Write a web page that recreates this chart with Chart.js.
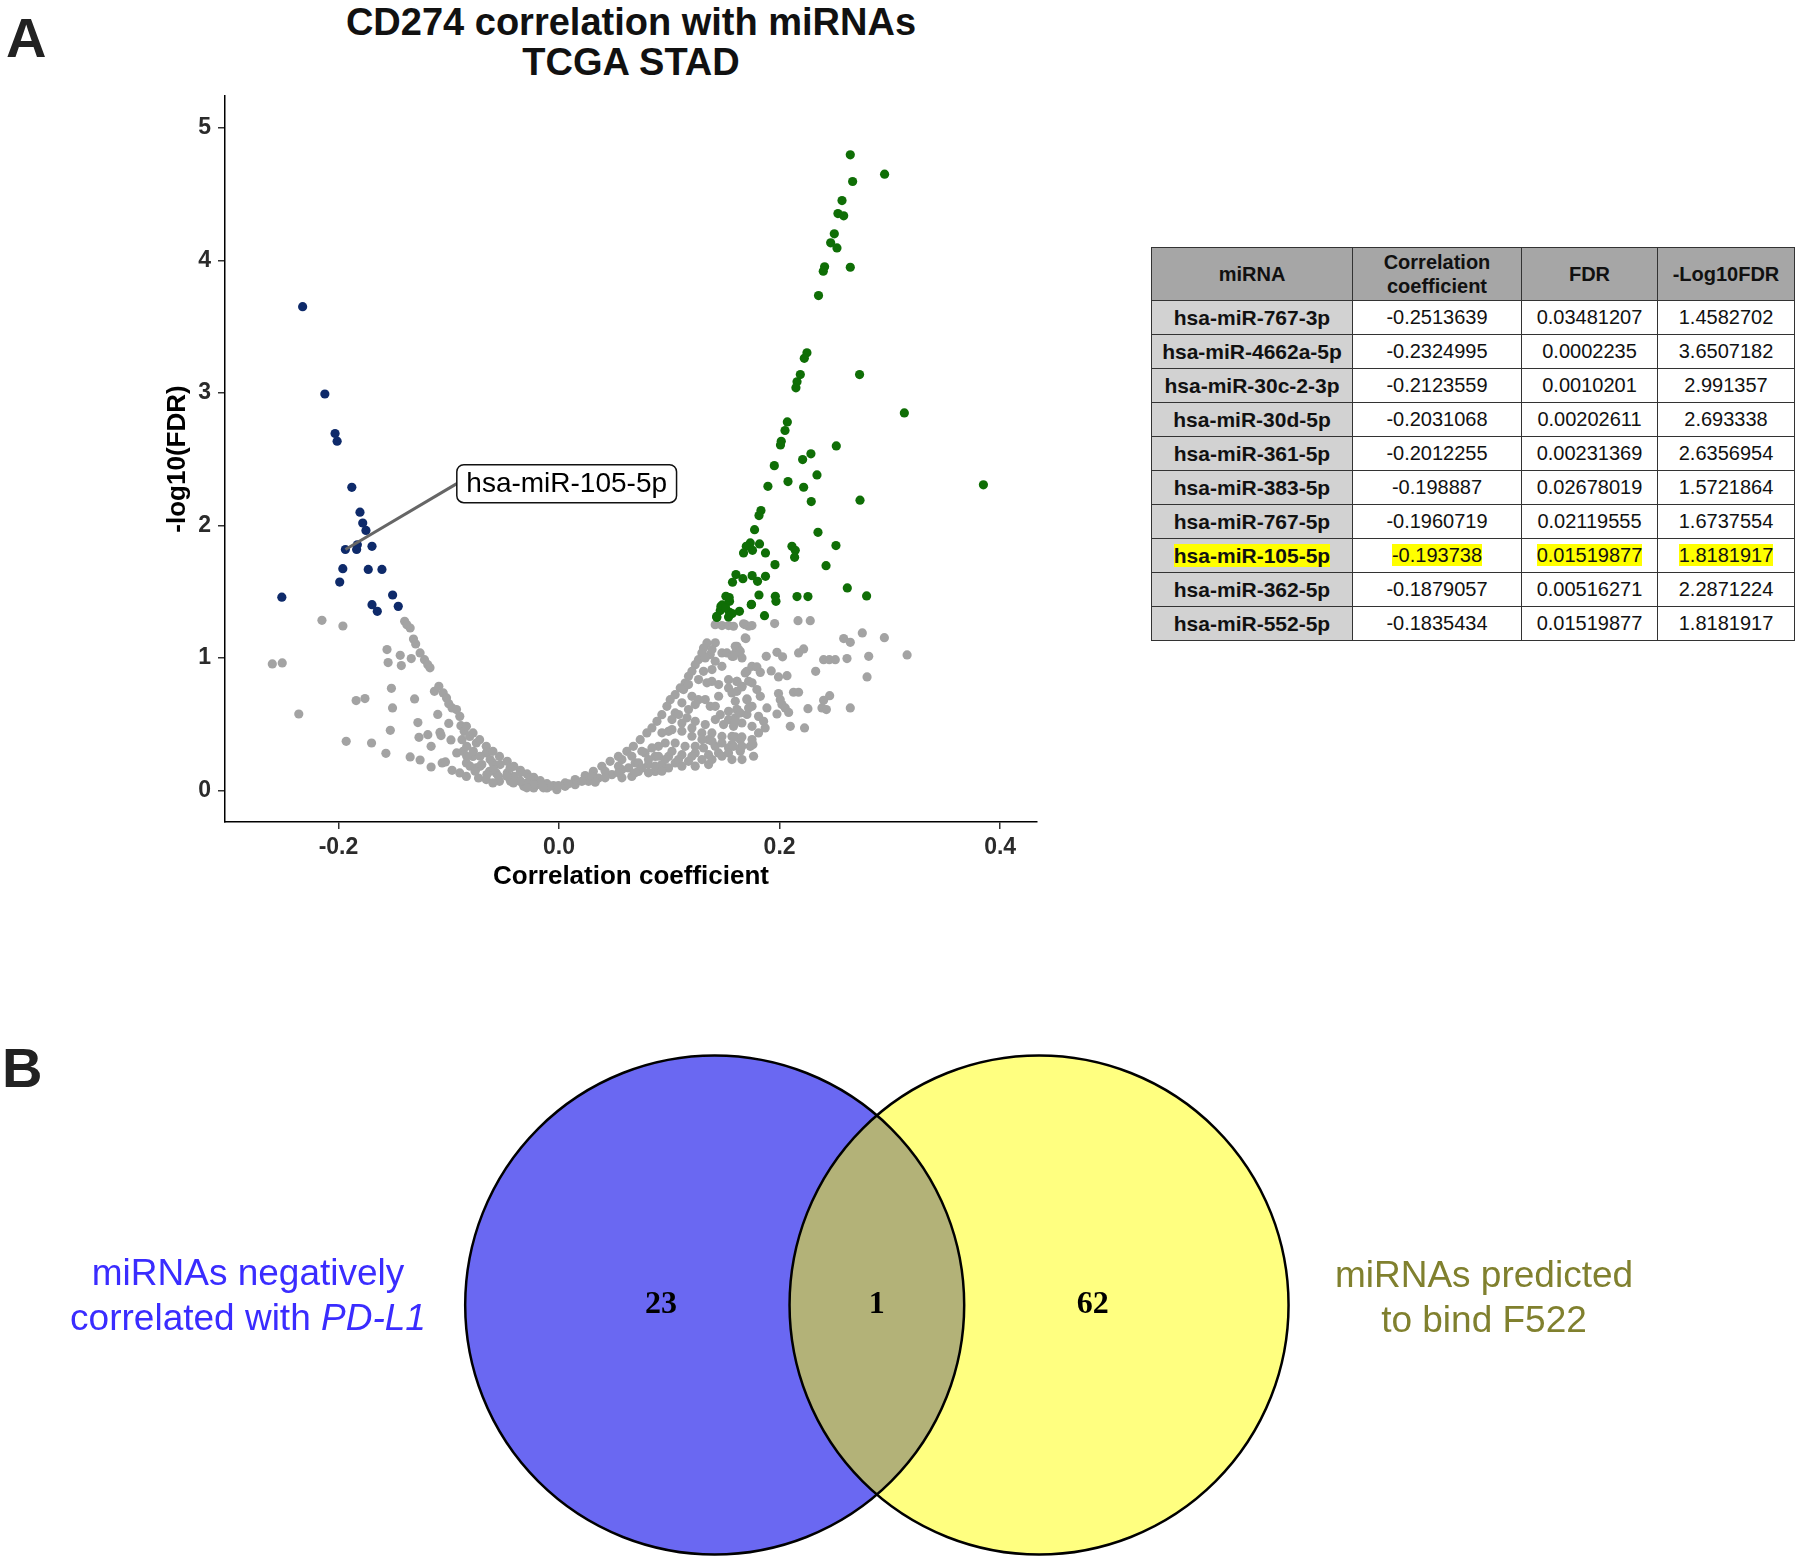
<!DOCTYPE html>
<html>
<head>
<meta charset="utf-8">
<script src="https://cdn.jsdelivr.net/npm/chart.js@4.4.1/dist/chart.umd.min.js"></script>
<style>
  html, body { margin: 0; padding: 0; background: #fff; }
  body { position: relative; width: 1800px; height: 1559px; overflow: hidden; font-family: "Liberation Sans", Arial, sans-serif; }
  .panel-tag { position: absolute; font-weight: bold; font-size: 56px; line-height: 56px; color: #222; }
  #title { position: absolute; left: 231px; top: 2px; width: 800px; text-align: center; font-weight: bold; font-size: 38px; line-height: 40px; color: #111; }
  #volcano { position: absolute; left: 0; top: 0; }
  #venn { position: absolute; left: 0; top: 1000px; }
  #tbl { position: absolute; left: 1151px; top: 247px; border-collapse: collapse; font-size: 20px; color: #111; table-layout: fixed; }
  #tbl td, #tbl th { border: 1.5px solid #333; text-align: center; padding: 0; }
  #tbl th { background: #a6a6a6; height: 52px; line-height: 24px; font-weight: bold; }
  #tbl td { height: 33px; }
  #tbl td.name { background: #d2d2d2; font-weight: bold; font-size: 21px; }
  #tbl .hl { background: #ffff00; }
  .set-label { position: absolute; font-size: 37px; line-height: 45px; text-align: center; width: 420px; }
</style>
</head>
<body>
<div class="panel-tag" style="left:6px;top:10px">A</div>
<div class="panel-tag" style="left:2px;top:1040px">B</div>
<div id="title">CD274 correlation with miRNAs<br>TCGA STAD</div>
<canvas id="volcano" width="1100" height="900"></canvas>
<table id="tbl"></table>
<canvas id="venn" width="1800" height="559"></canvas>
<div class="set-label" style="left:38px;top:1250px;color:#3a2cff">miRNAs negatively<br>correlated with <i>PD-L1</i></div>
<div class="set-label" style="left:1274px;top:1252px;color:#80802e">miRNAs predicted<br>to bind F522</div>

<script>
(function() {
    'use strict';

    // ---- panel A data: correlation coefficient vs -log10(FDR) ----
    const xTickVals = [-0.2, 0.0, 0.2, 0.4];
    const yTickVals = [0, 1, 2, 3, 4, 5];

    // significant, negatively correlated (blue)
    const negHits = [
        [-0.2513639, 1.4582702], [-0.2324995, 3.6507182], [-0.2123559, 2.991357], [-0.2031068, 2.693338],
        [-0.2012255, 2.6356954], [-0.198887, 1.5721864], [-0.1960719, 1.6737554], [-0.193738, 1.8181917],
        [-0.1879057, 2.2871224], [-0.1835434, 1.8181917], [-0.1805, 2.100], [-0.1780, 2.018],
        [-0.1751, 1.962], [-0.1829, 1.854], [-0.1696, 1.842], [-0.1730, 1.668], [-0.1606, 1.668],
        [-0.1509, 1.475], [-0.1458, 1.389], [-0.1696, 1.402], [-0.1648, 1.352]
    ];

    // significant, positively correlated (green)
    const posHits = [
        [0.2641, 4.796], [0.2952, 4.650], [0.2662, 4.595], [0.2566, 4.451], [0.2529, 4.353], [0.2581, 4.336],
        [0.2496, 4.200], [0.2463, 4.132], [0.2520, 4.094], [0.2408, 3.951], [0.2396, 3.918], [0.2641, 3.948],
        [0.2353, 3.734], [0.2248, 3.302], [0.2224, 3.261], [0.2188, 3.138], [0.2158, 3.083], [0.2148, 3.038],
        [0.2725, 3.138], [0.3131, 2.849], [0.2070, 2.781], [0.2049, 2.716], [0.2015, 2.635], [0.2008, 2.607],
        [0.2514, 2.600], [0.2284, 2.540], [0.2209, 2.497], [0.1952, 2.451], [0.2339, 2.381], [0.2076, 2.331],
        [0.1894, 2.295], [0.2218, 2.288], [0.3848, 2.306], [0.2287, 2.180], [0.2729, 2.190], [0.1831, 2.112],
        [0.1813, 2.074], [0.1773, 1.968], [0.2348, 1.948], [0.1734, 1.868], [0.1698, 1.842], [0.1818, 1.860],
        [0.1754, 1.812], [0.1673, 1.792], [0.1872, 1.792], [0.2112, 1.842], [0.2142, 1.812], [0.2136, 1.759],
        [0.2511, 1.848], [0.1958, 1.704], [0.2421, 1.696], [0.1604, 1.629], [0.1573, 1.571], [0.1667, 1.598],
        [0.1751, 1.621], [0.1800, 1.578], [0.1872, 1.616], [0.2614, 1.528], [0.2789, 1.468], [0.1513, 1.465],
        [0.1546, 1.427], [0.1468, 1.389], [0.1462, 1.357], [0.1636, 1.352], [0.1546, 1.344], [0.1813, 1.475],
        [0.1961, 1.465], [0.1967, 1.427], [0.2158, 1.463], [0.2257, 1.463], [0.1745, 1.405], [0.1863, 1.319],
        [0.1431, 1.306], [0.1537, 1.309], [0.1743, 1.402], [0.1429, 1.313], [0.1480, 1.400], [0.1543, 1.456],
        [0.1510, 1.378], [0.1570, 1.335]
    ];

    // not significant (grey)
    const notSig = [
        [-0.215, 1.284], [-0.196, 1.241], [-0.260, 0.955], [-0.251, 0.962], [-0.236, 0.577], [-0.140, 1.276],
        [-0.138, 1.251], [-0.135, 1.226], [-0.132, 1.143], [-0.130, 1.106], [-0.156, 1.063], [-0.144, 1.020],
        [-0.126, 1.038], [-0.134, 0.995], [-0.155, 0.965], [-0.143, 0.942], [-0.122, 0.987], [-0.119, 0.949],
        [-0.117, 0.925], [-0.152, 0.771], [-0.184, 0.678], [-0.176, 0.693], [-0.151, 0.623], [-0.131, 0.691],
        [-0.113, 0.748], [-0.109, 0.786], [-0.105, 0.736], [-0.102, 0.698], [-0.100, 0.655], [-0.097, 0.623],
        [-0.093, 0.610], [-0.110, 0.574], [-0.100, 0.506], [-0.128, 0.512], [-0.153, 0.454], [-0.193, 0.371],
        [-0.170, 0.358], [-0.157, 0.280], [-0.127, 0.401], [-0.119, 0.421], [-0.116, 0.333], [-0.108, 0.438],
        [-0.107, 0.414], [-0.098, 0.381], [-0.135, 0.253], [-0.126, 0.230], [-0.116, 0.177], [-0.106, 0.208],
        [-0.103, 0.215], [-0.089, 0.489], [-0.086, 0.446], [-0.088, 0.383], [-0.087, 0.295], [-0.081, 0.408],
        [-0.075, 0.358], [-0.078, 0.257], [-0.097, 0.152], [-0.090, 0.132], [-0.084, 0.106], [-0.073, 0.094],
        [-0.070, 0.195], [-0.066, 0.283], [-0.060, 0.208], [-0.057, 0.132], [-0.047, 0.132], [-0.054, 0.069],
        [-0.041, 0.106], [-0.035, 0.069], [-0.029, 0.057], [-0.020, 0.044], [-0.011, 0.019], [-0.002, 0.006],
        [-0.090, 0.559], [-0.084, 0.484], [-0.078, 0.434], [-0.072, 0.383], [-0.066, 0.333], [-0.060, 0.295],
        [-0.054, 0.257], [-0.047, 0.220], [-0.041, 0.182], [-0.035, 0.152], [-0.029, 0.125], [-0.023, 0.099],
        [-0.017, 0.074], [-0.011, 0.051], [-0.005, 0.036], [-0.084, 0.208], [-0.075, 0.170], [-0.063, 0.144],
        [-0.044, 0.069], [-0.032, 0.031], [-0.023, 0.019], [-0.066, 0.082], [-0.060, 0.057],
        [-0.0837, 0.333], [-0.0777, 0.296], [-0.0716, 0.258], [-0.0625, 0.233], [-0.0534, 0.195], [-0.0444, 0.170],
        [-0.0353, 0.133], [-0.0262, 0.095], [-0.0172, 0.057], [-0.0081, 0.032], [-0.0716, 0.183], [-0.0595, 0.158],
        [-0.0474, 0.107], [-0.0353, 0.069], [-0.0232, 0.045], [-0.0142, 0.020], [-0.0807, 0.183], [-0.0928, 0.283],
        [-0.0837, 0.258], [-0.0761, 0.145], [-0.0655, 0.120], [-0.0550, 0.107], [-0.0414, 0.057], [-0.0292, 0.020],
        [0.1416, 1.251], [0.1477, 1.244], [0.1537, 1.244], [0.1688, 1.251], [0.1719, 1.239], [0.1688, 1.151],
        [0.1341, 1.113], [0.1310, 1.075], [0.1295, 1.038], [0.1264, 0.987], [0.1235, 0.949], [0.1205, 0.899],
        [0.1174, 0.861], [0.1143, 0.811], [0.1099, 0.774], [0.1053, 0.723], [0.1008, 0.685], [0.0978, 0.635],
        [0.0932, 0.572], [0.0888, 0.522], [0.0842, 0.472], [0.0796, 0.434], [0.0736, 0.383], [0.0674, 0.333],
        [0.0615, 0.295], [0.0538, 0.257], [0.0463, 0.220], [0.0388, 0.182], [0.0311, 0.144], [0.0237, 0.112],
        [0.0146, 0.082], [0.0055, 0.057], [-0.0006, 0.036], [0.1371, 1.025], [0.1416, 0.975], [0.1310, 0.899],
        [0.1386, 0.823], [0.1477, 1.038], [0.1522, 1.038], [0.1598, 1.088], [0.1627, 1.063], [0.1704, 0.899],
        [0.1749, 0.937], [0.1537, 0.836], [0.1613, 0.823], [0.1537, 0.774], [0.1613, 0.748], [0.1704, 0.685],
        [0.1371, 0.635], [0.1462, 0.572], [0.1537, 0.597], [0.1613, 0.610], [0.1492, 0.497], [0.1537, 0.534],
        [0.1658, 0.509], [0.1129, 0.761], [0.1205, 0.710], [0.1264, 0.685], [0.1174, 0.610], [0.1053, 0.585],
        [0.1114, 0.509], [0.1205, 0.472], [0.1295, 0.434], [0.1386, 0.434], [0.1356, 0.383], [0.0993, 0.446],
        [0.0963, 0.358], [0.1053, 0.358], [0.0901, 0.333], [0.1143, 0.333], [0.1235, 0.333], [0.1310, 0.321],
        [0.1416, 0.333], [0.1477, 0.408], [0.1568, 0.408], [0.1643, 0.383], [0.1734, 0.333], [0.1537, 0.321],
        [0.1643, 0.308], [0.0780, 0.283], [0.0872, 0.257], [0.0993, 0.257], [0.1114, 0.270], [0.1235, 0.283],
        [0.1356, 0.270], [0.1446, 0.283], [0.0690, 0.208], [0.0811, 0.195], [0.0932, 0.195], [0.1053, 0.208],
        [0.1174, 0.220], [0.0569, 0.157], [0.0720, 0.144], [0.0872, 0.144], [0.0479, 0.119], [0.0660, 0.106],
        [0.0357, 0.094], [0.0267, 0.069], [0.0146, 0.044], [0.0055, 0.031],
        [0.0570, 0.233], [0.0660, 0.258], [0.0751, 0.296], [0.0842, 0.321], [0.0721, 0.208], [0.0811, 0.233],
        [0.0902, 0.258], [0.1024, 0.296], [0.0963, 0.233], [0.1084, 0.233], [0.1205, 0.258], [0.1296, 0.233],
        [0.1387, 0.233], [0.1477, 0.258], [0.1537, 0.283], [0.0539, 0.183], [0.0630, 0.170], [0.0751, 0.170],
        [0.0872, 0.183], [0.0993, 0.170], [0.1114, 0.183], [0.1235, 0.183], [0.1356, 0.195], [0.0418, 0.145],
        [0.0539, 0.133], [0.0690, 0.133], [0.0811, 0.133], [0.0933, 0.145], [0.0298, 0.107], [0.0418, 0.095],
        [0.0570, 0.095], [0.0207, 0.069], [0.0328, 0.062], [0.0085, 0.050], [0.0933, 0.435], [0.1024, 0.459],
        [0.1114, 0.447], [0.1205, 0.409], [0.1296, 0.384], [0.1387, 0.371], [0.1477, 0.359], [0.1568, 0.346],
        [0.1659, 0.333], [0.1750, 0.384], [0.1764, 0.258], [0.1659, 0.233], [0.1568, 0.233], [0.1024, 0.535],
        [0.1084, 0.573], [0.1160, 0.548], [0.1235, 0.522], [0.1326, 0.497], [0.1417, 0.535], [0.1598, 0.548],
        [0.1704, 0.573], [0.1750, 0.484], [0.1114, 0.661], [0.1235, 0.648], [0.1326, 0.686], [0.1447, 0.711],
        [0.1598, 0.673], [0.1750, 0.635], [0.1417, 0.635], [0.1174, 0.799], [0.1265, 0.837], [0.1341, 0.812],
        [0.1447, 0.799], [0.1659, 0.786], [0.1750, 0.812], [0.1387, 0.912], [0.1477, 0.937], [0.1719, 0.824],
        [0.1417, 1.114], [0.1387, 1.063], [0.1568, 1.012], [0.1659, 1.000], [0.1326, 1.000],
        [0.1582, 1.239], [0.1673, 1.257], [0.1749, 1.244], [0.1955, 1.259], [0.2167, 1.281], [0.2278, 1.281],
        [0.1694, 1.146], [0.1613, 1.088], [0.1598, 1.038], [0.1643, 1.050], [0.1582, 1.012], [0.1879, 1.012],
        [0.1976, 1.042], [0.2027, 1.008], [0.2172, 1.038], [0.2218, 1.068], [0.2581, 1.146], [0.2641, 1.118],
        [0.2750, 1.189], [0.2950, 1.153], [0.3156, 1.023], [0.2808, 1.012], [0.2611, 0.995], [0.2399, 0.987],
        [0.2451, 0.987], [0.2505, 0.987], [0.2327, 0.899], [0.2793, 0.857], [0.1794, 0.932], [0.1825, 0.891],
        [0.1924, 0.902], [0.1990, 0.857], [0.2067, 0.866], [0.1688, 0.887], [0.1613, 0.823], [0.1658, 0.781],
        [0.1568, 0.736], [0.1794, 0.761], [0.1825, 0.710], [0.1990, 0.731], [0.2006, 0.685], [0.2126, 0.741],
        [0.2172, 0.741], [0.2454, 0.715], [0.2399, 0.680], [0.1704, 0.691], [0.1613, 0.610], [0.1719, 0.623],
        [0.1885, 0.623], [0.2021, 0.648], [0.2051, 0.623], [0.2082, 0.589], [0.2257, 0.617], [0.2384, 0.623],
        [0.2424, 0.610], [0.2641, 0.623], [0.1976, 0.577], [0.1809, 0.559], [0.1855, 0.522], [0.1643, 0.585],
        [0.1598, 0.522], [0.1582, 0.484], [0.1869, 0.472], [0.2097, 0.484], [0.2226, 0.472], [0.1809, 0.434],
        [0.1598, 0.404], [0.1658, 0.404], [0.1582, 0.333], [0.1643, 0.295], [0.1758, 0.346]
    ];

    const labelled = { name: 'hsa-miR-105-5p', r: -0.193738, logFdr: 1.8181917 };

    // ---- table data ----
    const tblHead = ['miRNA', 'Correlation<br>coefficient', 'FDR', '-Log10FDR'];
    const tblMirna = ['hsa-miR-767-3p', 'hsa-miR-4662a-5p', 'hsa-miR-30c-2-3p', 'hsa-miR-30d-5p', 'hsa-miR-361-5p',
        'hsa-miR-383-5p', 'hsa-miR-767-5p', 'hsa-miR-105-5p', 'hsa-miR-362-5p', 'hsa-miR-552-5p'];
    const tblCoef = ['-0.2513639', '-0.2324995', '-0.2123559', '-0.2031068', '-0.2012255',
        '-0.198887', '-0.1960719', '-0.193738', '-0.1879057', '-0.1835434'];
    const tblFdr = ['0.03481207', '0.0002235', '0.0010201', '0.00202611', '0.00231369',
        '0.02678019', '0.02119555', '0.01519877', '0.00516271', '0.01519877'];
    const tblLog = ['1.4582702', '3.6507182', '2.991357', '2.693338', '2.6356954',
        '1.5721864', '1.6737554', '1.8181917', '2.2871224', '1.8181917'];
    const tblHighlight = 7;

    // ---- panel B data ----
    const vennCounts = [23, 1, 62]; // left only, both, right only

    const FONT = '"Liberation Sans", Arial, sans-serif';
    const LABEL_AT = [-0.0927, 2.315];   // data coords of the label box's left edge
    const CENTRE_GAP = 1.3;              // distance between circle centres, in radii
    const COUNT_OFFSET = 0.215;

    document.addEventListener('DOMContentLoaded', function() {
        buildTable();
        initVolcano();
        initVenn();
    });

    function buildTable() {
        const tbl = document.getElementById('tbl');
        const widths = [201, 169, 136, 137];
        let html = '<colgroup>' + widths.map(w => '<col style="width:' + w + 'px">').join('') + '</colgroup>';
        html += '<tr>' + tblHead.map(h => '<th>' + h + '</th>').join('') + '</tr>';
        tblMirna.forEach(function(name, i) {
            const cells = [name, tblCoef[i], tblFdr[i], tblLog[i]].map(function(v) {
                return i === tblHighlight ? '<span class="hl">' + v + '</span>' : v;
            });
            html += '<tr><td class="name">' + cells[0] + '</td><td>' + cells[1] + '</td><td>' + cells[2] +
                '</td><td>' + cells[3] + '</td></tr>';
        });
        tbl.innerHTML = html;
    }

    const toXY = arr => arr.map(p => ({ x: p[0], y: p[1] }));

    // ggrepel-style label for the highlighted miRNA
    const repelLabel = {
        id: 'repelLabel',
        afterDatasetsDraw(chart) {
            const { ctx, scales: { x, y } } = chart;
            const px = x.getPixelForValue(labelled.r), py = y.getPixelForValue(labelled.logFdr);
            const bx = x.getPixelForValue(LABEL_AT[0]), by = y.getPixelForValue(LABEL_AT[1]);
            ctx.save();
            ctx.font = '28px ' + FONT;
            const w = ctx.measureText(labelled.name).width + 19, h = 38;
            ctx.strokeStyle = '#666';
            ctx.lineWidth = 3;
            ctx.beginPath();
            ctx.moveTo(px, py);
            ctx.lineTo(bx, by);
            ctx.stroke();
            ctx.beginPath();
            ctx.roundRect(bx, by - h / 2, w, h, 7);
            ctx.fillStyle = '#fff';
            ctx.fill();
            ctx.lineWidth = 1.5;
            ctx.strokeStyle = '#111';
            ctx.stroke();
            ctx.fillStyle = '#000';
            ctx.textAlign = 'center';
            ctx.textBaseline = 'middle';
            ctx.fillText(labelled.name, bx + w / 2, by + 1);
            ctx.restore();
        }
    };

    function initVolcano() {
        const ctx = document.getElementById('volcano').getContext('2d');
        const pt = { pointRadius: 4.6, pointHoverRadius: 4.6, pointBorderWidth: 0 };
        const tickFont = { family: FONT, size: 23, weight: 'bold' };
        const titleFont = { family: FONT, size: 26, weight: 'bold' };
        const axisGrid = { display: true, drawOnChartArea: false, drawTicks: true, tickLength: 7, color: '#333', lineWidth: 1.5 };

        new Chart(ctx, {
            type: 'scatter',
            data: {
                datasets: [
                    Object.assign({ label: 'negative', data: toXY(negHits), backgroundColor: '#0e2a6a', borderColor: '#0e2a6a' }, pt),
                    Object.assign({ label: 'positive', data: toXY(posHits), backgroundColor: '#0f6e06', borderColor: '#0f6e06' }, pt),
                    Object.assign({ label: 'ns', data: toXY(notSig), backgroundColor: '#a3a3a3', borderColor: '#a3a3a3' }, pt)
                ]
            },
            options: {
                responsive: false,
                animation: false,
                devicePixelRatio: 1,
                events: [],
                layout: { padding: { top: 96, right: 63, left: 0, bottom: 0 } },
                plugins: { legend: { display: false }, tooltip: { enabled: false } },
                scales: {
                    x: {
                        type: 'linear',
                        min: -0.3029,
                        max: 0.4334,
                        afterFit: s => { s.height = 78; },
                        afterBuildTicks: s => { s.ticks = xTickVals.map(v => ({ value: v })); },
                        ticks: { font: tickFont, color: '#2b2b2b', padding: 5, maxRotation: 0, callback: v => v.toFixed(1) },
                        grid: axisGrid,
                        border: { display: true, color: '#000', width: 1.5 },
                        title: { display: true, text: 'Correlation coefficient', font: titleFont, color: '#000', padding: { top: 0, bottom: 8 } }
                    },
                    y: {
                        type: 'linear',
                        min: -0.238,
                        max: 5.24,
                        afterFit: s => { s.width = 225; },
                        afterBuildTicks: s => { s.ticks = yTickVals.map(v => ({ value: v })); },
                        ticks: { font: tickFont, color: '#2b2b2b', padding: 7, callback: v => String(v) },
                        grid: axisGrid,
                        border: { display: true, color: '#000', width: 1.5 },
                        title: { display: true, text: '-log10(FDR)', font: titleFont, color: '#000', padding: { top: 162, bottom: 0 } }
                    }
                }
            },
            plugins: [repelLabel]
        });
    }

    // two-set Venn: circles of radius 1 in data units
    const vennPlugin = {
        id: 'vennCircles',
        beforeDatasetsDraw(chart) {
            const { ctx, scales: { x, y } } = chart;
            const r = x.getPixelForValue(1) - x.getPixelForValue(0);
            const cy = y.getPixelForValue(0);
            const c1 = x.getPixelForValue(0), c2 = x.getPixelForValue(CENTRE_GAP);
            ctx.save();
            ctx.fillStyle = '#6a68f2';
            ctx.beginPath(); ctx.arc(c1, cy, r, 0, Math.PI * 2); ctx.fill();
            ctx.fillStyle = '#ffff80';
            ctx.beginPath(); ctx.arc(c2, cy, r, 0, Math.PI * 2); ctx.fill();
            ctx.save();
            ctx.beginPath(); ctx.arc(c1, cy, r, 0, Math.PI * 2); ctx.clip();
            ctx.fillStyle = '#b3b278';
            ctx.beginPath(); ctx.arc(c2, cy, r, 0, Math.PI * 2); ctx.fill();
            ctx.restore();
            ctx.strokeStyle = '#000';
            ctx.lineWidth = 2.5;
            ctx.beginPath(); ctx.arc(c1, cy, r, 0, Math.PI * 2); ctx.stroke();
            ctx.beginPath(); ctx.arc(c2, cy, r, 0, Math.PI * 2); ctx.stroke();
            ctx.restore();
        },
        afterDatasetsDraw(chart) {
            const { ctx } = chart;
            const meta = chart.getDatasetMeta(0);
            ctx.save();
            ctx.font = 'bold 32px "Liberation Serif", "Times New Roman", serif';
            ctx.fillStyle = '#000';
            ctx.textAlign = 'center';
            ctx.textBaseline = 'middle';
            meta.data.forEach(function(el, i) {
                ctx.fillText(String(vennCounts[i]), el.x, el.y);
            });
            ctx.restore();
        }
    };

    function initVenn() {
        const ctx = document.getElementById('venn').getContext('2d');
        const countPos = [-COUNT_OFFSET, CENTRE_GAP / 2, CENTRE_GAP + COUNT_OFFSET];
        new Chart(ctx, {
            type: 'scatter',
            data: {
                datasets: [{
                    data: vennCounts.map((n, i) => ({ x: countPos[i], y: 0 })),
                    pointRadius: 0,
                    pointHoverRadius: 0
                }]
            },
            options: {
                responsive: false,
                animation: false,
                devicePixelRatio: 1,
                events: [],
                layout: { padding: 0 },
                plugins: { legend: { display: false }, tooltip: { enabled: false } },
                scales: {
                    x: { type: 'linear', display: false, min: -2.8645, max: 4.3499 },
                    y: { type: 'linear', display: false, min: -1.0181, max: 1.2224 }
                }
            },
            plugins: [vennPlugin]
        });
    }

})();
</script>
</body>
</html>
